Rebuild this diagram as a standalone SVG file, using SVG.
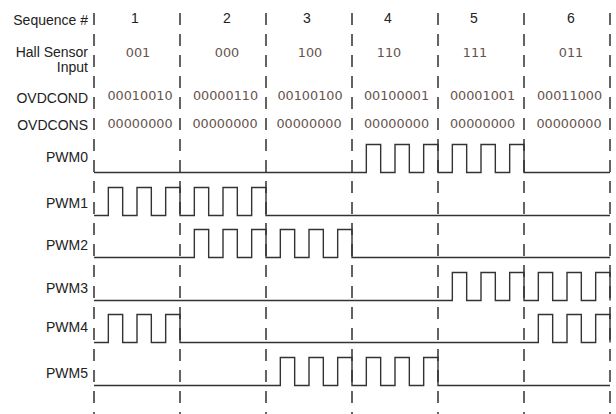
<svg xmlns="http://www.w3.org/2000/svg" width="616" height="414" viewBox="0 0 616 414">
<style>
.bg{fill:#ffffff}
.lbl{font-family:"Liberation Sans",Arial,sans-serif;font-size:14px;fill:#222;text-anchor:end}
.num{font-family:"Liberation Sans",Arial,sans-serif;font-size:14px;fill:#222;text-anchor:middle}
.val{font-family:"DejaVu Sans",Verdana,sans-serif;font-size:12.8px;fill:#65524c;text-anchor:middle}
.grid{stroke:#222;stroke-width:1.4;stroke-dasharray:12 9;fill:none}
.wave{stroke:#333;stroke-width:1.4;fill:none;stroke-linejoin:miter}
</style>
<rect class="bg" x="0" y="0" width="616" height="414"/>
<g id="connectors">
<line class="grid" x1="94" y1="13" x2="94" y2="414"/>
<line class="grid" x1="180" y1="13" x2="180" y2="414"/>
<line class="grid" x1="266" y1="13" x2="266" y2="414"/>
<line class="grid" x1="352" y1="13" x2="352" y2="414"/>
<line class="grid" x1="438" y1="13" x2="438" y2="414"/>
<line class="grid" x1="524" y1="13" x2="524" y2="414"/>
<line class="grid" x1="610" y1="13" x2="610" y2="414"/>
</g>
<g id="header-sequence">
<text class="lbl" x="88" y="25">Sequence #</text>
<text class="num" x="135" y="23">1</text>
<text class="num" x="227" y="23">2</text>
<text class="num" x="307" y="23">3</text>
<text class="num" x="388" y="23">4</text>
<text class="num" x="474" y="23">5</text>
<text class="num" x="571" y="23">6</text>
</g>
<g id="header-hall">
<text class="lbl" x="88" y="57">Hall Sensor</text>
<text class="lbl" x="88" y="72">Input</text>
<text class="val" x="138" y="57">001</text>
<text class="val" x="227" y="57">000</text>
<text class="val" x="310" y="57">100</text>
<text class="val" x="389" y="57">110</text>
<text class="val" x="475" y="57">111</text>
<text class="val" x="571" y="57">011</text>
</g>
<g id="header-ovdcond">
<text class="lbl" x="88" y="103">OVDCOND</text>
<text class="val" x="140" y="100">00010010</text>
<text class="val" x="225.5" y="100">00000110</text>
<text class="val" x="310" y="100">00100100</text>
<text class="val" x="396.5" y="100">00100001</text>
<text class="val" x="482.5" y="100">00001001</text>
<text class="val" x="569.5" y="100">00011000</text>
</g>
<g id="header-ovdcons">
<text class="lbl" x="88" y="130">OVDCONS</text>
<text class="val" x="140" y="128">00000000</text>
<text class="val" x="225" y="128">00000000</text>
<text class="val" x="309" y="128">00000000</text>
<text class="val" x="396.5" y="128">00000000</text>
<text class="val" x="482.5" y="128">00000000</text>
<text class="val" x="569" y="128">00000000</text>
</g>
<g id="pwm0">
<text class="lbl" x="88" y="161.5">PWM0</text>
<path class="wave" d="M94,172.5 H366.33 V144.5 H380.67 V172.5 H395 V144.5 H409.33 V172.5 H423.67 V144.5 H438 V172.5 H452.33 V144.5 H466.67 V172.5 H481 V144.5 H495.33 V172.5 H509.67 V144.5 H524 V172.5 H610"/>
</g>
<g id="pwm1">
<text class="lbl" x="88" y="207.5">PWM1</text>
<path class="wave" d="M94,215.5 H108.33 V187.5 H122.67 V215.5 H137 V187.5 H151.33 V215.5 H165.67 V187.5 H180 V215.5 H194.33 V187.5 H208.67 V215.5 H223 V187.5 H237.33 V215.5 H251.67 V187.5 H266 V215.5 H610"/>
</g>
<g id="pwm2">
<text class="lbl" x="88" y="250">PWM2</text>
<path class="wave" d="M94,257.5 H194.33 V229.5 H208.67 V257.5 H223 V229.5 H237.33 V257.5 H251.67 V229.5 H266 V257.5 H280.33 V229.5 H294.67 V257.5 H309 V229.5 H323.33 V257.5 H337.67 V229.5 H352 V257.5 H610"/>
</g>
<g id="pwm3">
<text class="lbl" x="88" y="293">PWM3</text>
<path class="wave" d="M94,300.5 H452.33 V272.5 H466.67 V300.5 H481 V272.5 H495.33 V300.5 H509.67 V272.5 H524 V300.5 H538.33 V272.5 H552.67 V300.5 H567 V272.5 H581.33 V300.5 H595.67 V272.5 H610 V300.5"/>
</g>
<g id="pwm4">
<text class="lbl" x="88" y="332">PWM4</text>
<path class="wave" d="M94,342.5 H108.33 V314.5 H122.67 V342.5 H137 V314.5 H151.33 V342.5 H165.67 V314.5 H180 V342.5 H538.33 V314.5 H552.67 V342.5 H567 V314.5 H581.33 V342.5 H595.67 V314.5 H610 V342.5"/>
</g>
<g id="pwm5">
<text class="lbl" x="88" y="378">PWM5</text>
<path class="wave" d="M94,385.5 H280.33 V357.5 H294.67 V385.5 H309 V357.5 H323.33 V385.5 H337.67 V357.5 H352 V385.5 H366.33 V357.5 H380.67 V385.5 H395 V357.5 H409.33 V385.5 H423.67 V357.5 H438 V385.5 H610"/>
</g>
</svg>
